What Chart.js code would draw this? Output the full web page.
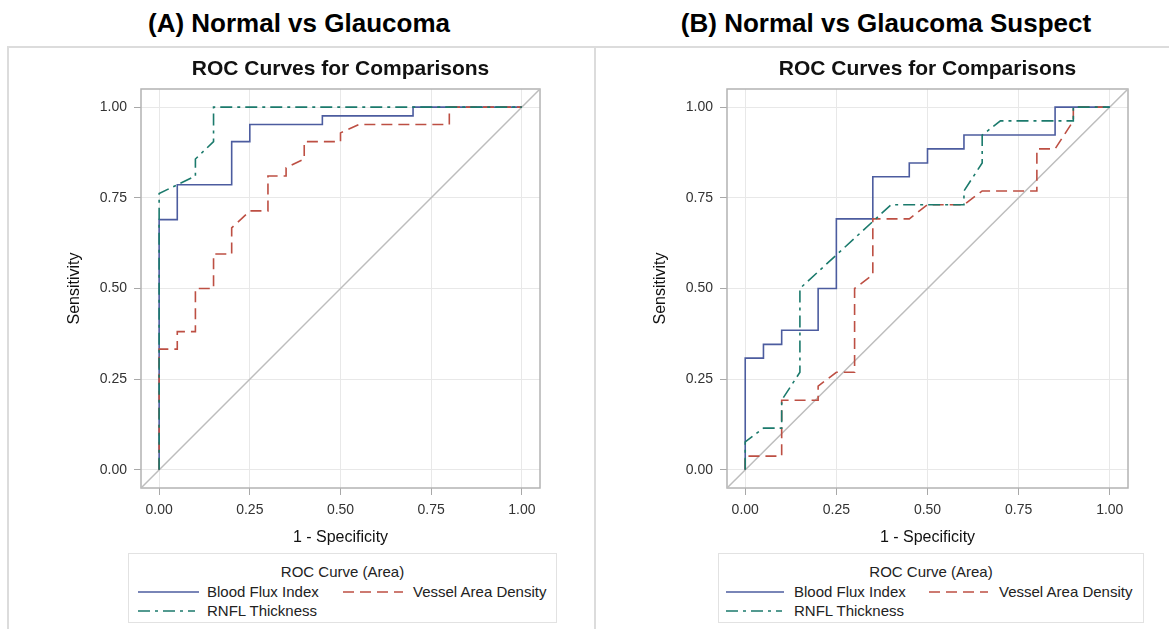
<!DOCTYPE html>
<html lang="en">
<head>
<meta charset="UTF-8">
<title>ROC Curves for Comparisons</title>
<script src="https://cdn.jsdelivr.net/npm/chart.js"></script>
<style>
    body {
        margin: 0;
        width: 1169px;
        height: 629px;
        background: #fff;
        font-family: Arial, "Liberation Sans", sans-serif;
        position: relative;
        overflow: hidden;
    }
    .heading {
        position: absolute;
        top: 8px;
        width: 560px;
        line-height: 30px;
        font-size: 26px;
        font-weight: bold;
        color: #000;
        text-align: center;
    }
    .rule { position: absolute; background: #dcdcdc; }
    canvas { position: absolute; top: 48px; }
    .legend {
        position: absolute;
        top: 553px;
        height: 70px;
        border: 1px solid #e2e2e2;
        box-sizing: border-box;
        font-size: 15px;
        color: #222;
    }
    .legend .ttl { position: absolute; left: 0; right: 0; top: 9px; text-align: center; line-height: 18px; }
    .legend .item { position: absolute; line-height: 18px; white-space: nowrap; }
    .legend svg { position: absolute; top: 7px; }
</style>
</head>
<body>
<div class="heading" style="left:19px">(A) Normal vs Glaucoma</div>
<div class="heading" style="left:606px">(B) Normal vs Glaucoma Suspect</div>

<div class="rule" style="left:8px; top:46px; width:1161px; height:2px"></div>
<div class="rule" style="left:7px; top:46px; width:2px; height:583px"></div>
<div class="rule" style="left:594px; top:46px; width:2px; height:583px"></div>

<canvas id="chartA" width="587" height="500" style="left:8px"></canvas>
<canvas id="chartB" width="575" height="500" style="left:594px"></canvas>

<div class="legend" id="legendA" style="left:128px; width:429px"></div>
<div class="legend" id="legendB" style="left:718px; width:426px"></div>

<script>
// series names
const categories = ['Blood Flux Index', 'Vessel Area Density', 'RNFL Thickness'];
const legendTitle = 'ROC Curve (Area)';

// axis ticks
const tickValues = [0, 0.25, 0.5, 0.75, 1];
const tickLabels = ['0.00', '0.25', '0.50', '0.75', '1.00'];
const axisMin = -0.05;
const axisMax = 1.05;

// chance line
const chanceX = [-0.05, 1.05];
const chanceY = [-0.05, 1.05];

// (A) Normal vs Glaucoma
const fluxA_x = [0, 0, 0.05, 0.05, 0.20, 0.20, 0.25, 0.25, 0.45, 0.45, 0.70, 0.70, 1.00];
const fluxA_y = [0, 0.690, 0.690, 0.786, 0.786, 0.905, 0.905, 0.952, 0.952, 0.976, 0.976, 1, 1];
const vadA_x = [0, 0, 0.05, 0.05, 0.10, 0.10, 0.15, 0.15, 0.20, 0.20, 0.25, 0.30, 0.30, 0.35, 0.35, 0.40, 0.40, 0.50, 0.50, 0.55, 0.80, 0.80, 1.00];
const vadA_y = [0, 0.333, 0.333, 0.381, 0.381, 0.500, 0.500, 0.595, 0.595, 0.667, 0.714, 0.714, 0.810, 0.810, 0.833, 0.857, 0.905, 0.905, 0.929, 0.952, 0.952, 1, 1];
const rnflA_x = [0, 0, 0.05, 0.10, 0.10, 0.15, 0.15, 1.00];
const rnflA_y = [0, 0.762, 0.786, 0.810, 0.857, 0.905, 1, 1];

// (B) Normal vs Glaucoma Suspect
const fluxB_x = [0, 0, 0.05, 0.05, 0.10, 0.10, 0.20, 0.20, 0.25, 0.25, 0.35, 0.35, 0.45, 0.45, 0.50, 0.50, 0.60, 0.60, 0.85, 0.85, 1.00];
const fluxB_y = [0, 0.308, 0.308, 0.346, 0.346, 0.385, 0.385, 0.500, 0.500, 0.692, 0.692, 0.808, 0.808, 0.846, 0.846, 0.885, 0.885, 0.923, 0.923, 1, 1];
const vadB_x = [0, 0, 0.10, 0.10, 0.20, 0.20, 0.25, 0.30, 0.30, 0.35, 0.35, 0.45, 0.50, 0.60, 0.65, 0.80, 0.80, 0.85, 0.90, 0.90, 1.00];
const vadB_y = [0, 0.038, 0.038, 0.192, 0.192, 0.231, 0.269, 0.269, 0.500, 0.538, 0.692, 0.692, 0.731, 0.731, 0.769, 0.769, 0.885, 0.885, 0.962, 1, 1];
const rnflB_x = [0, 0, 0.05, 0.10, 0.10, 0.15, 0.15, 0.40, 0.60, 0.60, 0.65, 0.65, 0.70, 0.90, 0.90, 1.00];
const rnflB_y = [0, 0.077, 0.115, 0.115, 0.192, 0.269, 0.500, 0.731, 0.731, 0.769, 0.846, 0.923, 0.962, 0.962, 1, 1];

const colors = ['#4c5c9f', '#bd4f43', '#1b7a6c'];
const dashes = [[], [11, 6], [12, 5, 3, 5]];
const font = 'Arial, "Liberation Sans", sans-serif';

function pts(xs, ys) {
    return xs.map((x, i) => ({ x: x, y: ys[i] }));
}

// gray box round the plot area
const framePlugin = {
    id: 'frame',
    beforeDatasetsDraw(chart) {
        const a = chart.chartArea;
        const ctx = chart.ctx;
        ctx.save();
        ctx.strokeStyle = '#b3b3b3';
        ctx.lineWidth = 1.5;
        ctx.strokeRect(a.left, a.top, a.right - a.left, a.bottom - a.top);
        ctx.restore();
    }
};

function axis(titleText, isX) {
    return {
        type: 'linear',
        min: axisMin,
        max: axisMax,
        afterBuildTicks: s => { s.ticks = tickValues.map(v => ({ value: v })); },
        afterFit: s => { if (isX) s.height = 60; else s.width = 133; },
        ticks: {
            autoSkip: false,
            maxRotation: 0,
            padding: 7,
            color: '#333',
            font: { family: font, size: 14 },
            callback: (v, i) => tickLabels[i]
        },
        grid: { color: '#e8e8e8', lineWidth: 1, tickLength: 7, tickColor: '#a8a8a8' },
        border: { display: false },
        title: {
            display: true,
            text: titleText,
            color: '#111',
            font: { family: font, size: 16 },
            padding: isX ? { top: 0, bottom: 1 } : { top: 57, bottom: 0 }
        }
    };
}

function makeChart(id, curves, padRight) {
    const sets = curves.map((c, i) => ({
        label: categories[i],
        data: pts(c[0], c[1]),
        borderColor: colors[i],
        borderWidth: 1.6,
        borderDash: dashes[i],
        order: 3 - i
    }));
    sets.push({
        label: 'chance',
        data: pts(chanceX, chanceY),
        borderColor: '#bdbdbd',
        borderWidth: 1.5,
        order: 4
    });
    new Chart(document.getElementById(id), {
        type: 'scatter',
        data: { datasets: sets },
        options: {
            responsive: false,
            animation: false,
            showLine: true,
            elements: { point: { radius: 0 }, line: { tension: 0, fill: false } },
            layout: { padding: { left: 0, right: padRight, top: 0, bottom: 0 } },
            scales: {
                x: axis('1 - Specificity', true),
                y: axis('Sensitivity', false)
            },
            plugins: {
                legend: { display: false },
                tooltip: { enabled: false },
                title: {
                    display: true,
                    text: 'ROC Curves for Comparisons',
                    fullSize: false,
                    color: '#111',
                    font: { family: font, size: 21, weight: 'bold' },
                    padding: { top: 9, bottom: 6.8 }
                }
            }
        },
        plugins: [framePlugin]
    });
}

function makeLegend(id, pos) {
    const box = document.getElementById(id);
    const t = document.createElement('div');
    t.className = 'ttl';
    t.textContent = legendTitle;
    box.appendChild(t);
    categories.forEach((name, i) => {
        const p = pos[i];
        const item = document.createElement('div');
        item.className = 'item';
        item.style.left = p[0] + 'px';
        item.style.top = p[1] + 'px';
        const w = p[2] - p[0];
        item.innerHTML = '<svg width="' + w + '" height="4" style="left:0">' +
            '<line x1="0" y1="2" x2="' + w + '" y2="2" stroke="' + colors[i] + '" stroke-width="1.6"' +
            (dashes[i].length ? ' stroke-dasharray="' + dashes[i].join(' ') + '"' : '') + '/></svg>' +
            '<span style="position:absolute; left:' + (p[3] - p[0]) + 'px">' + name + '</span>';
        box.appendChild(item);
    });
}

makeChart('chartA', [[fluxA_x, fluxA_y], [vadA_x, vadA_y], [rnflA_x, rnflA_y]], 55);
makeChart('chartB', [[fluxB_x, fluxB_y], [vadB_x, vadB_y], [rnflB_x, rnflB_y]], 41);

// [line start, row top, line end, text start] inside each legend box
makeLegend('legendA', [[9, 29, 70, 78], [214, 29, 274, 284], [9, 48, 66, 78]]);
makeLegend('legendB', [[7, 29, 65, 75], [210, 29, 269, 280], [7, 48, 63, 75]]);
</script>
</body>
</html>
